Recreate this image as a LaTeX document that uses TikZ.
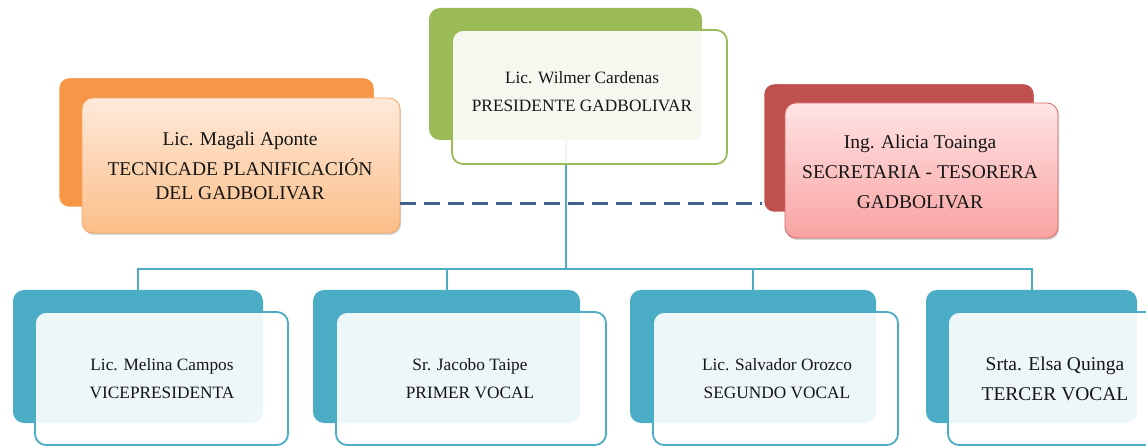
\documentclass[tikz,border=0pt]{standalone}
\usepackage{fontspec}
\setmainfont{Liberation Serif}
\usetikzlibrary{shadows}
\definecolor{orangeB}{HTML}{F79646}
\definecolor{orangeT}{HTML}{FEEADB}
\definecolor{orangeL}{HTML}{FBBE88}
\definecolor{orangeE}{HTML}{F5A565}
\definecolor{redB}{HTML}{C0504D}
\definecolor{redT}{HTML}{FFE4E4}
\definecolor{redL}{HTML}{F9A2A2}
\definecolor{redE}{HTML}{D06B69}
\definecolor{greenB}{HTML}{9BBB59}
\definecolor{blueB}{HTML}{4BACC6}
\definecolor{dashC}{HTML}{3E5F90}
\definecolor{txt}{HTML}{151515}
\begin{document}
\begin{tikzpicture}[x=1pt,y=-1pt,
  box/.style={rectangle, rounded corners=11pt, inner sep=0pt},
  backsolid/.style={box, fill=#1},
  backglow/.style={box, fill=#1, draw=white, line width=2.5pt,
    drop shadow={opacity=0.25, shadow xshift=0.8pt, shadow yshift=-1.2pt}},
  frontclear/.style={box, draw=#1, line width=1.8pt, fill=white, fill opacity=0.9, draw opacity=1},
  frontgrad/.style n args={3}{box, draw=#3, line width=0.8pt, top color=#1, bottom color=#2,
    drop shadow={opacity=0.35, shadow xshift=1pt, shadow yshift=-2pt}},
  tline/.style={draw=blueB, line width=2pt},
  dline/.style={draw=dashC, line width=3pt, dash pattern=on 16pt off 8pt},
  bigtxt/.style={align=center, text=txt, font=\fontsize{19.5}{30}\selectfont},
  smalltxt/.style={align=center, text=txt, font=\fontsize{17.3}{28}\selectfont}
]
\useasboundingbox (0,0) rectangle (1146,446);
\clip (0,0) rectangle (1146,446);

% dashed link
\coordinate (dy) at (0,204);
% back boxes
\node[backglow=orangeB, minimum width=317pt, minimum height=131pt] (ob) at (216.5,142.5) {};
\node[backglow=redB, minimum width=272pt, minimum height=130pt] (rb) at (899,148) {};
\node[backsolid=greenB, minimum width=273pt, minimum height=132pt] (gb) at (565.5,74) {};
\node[backsolid=blueB, minimum width=250pt, minimum height=133pt] (b1) at (138,356.5) {};
\node[backsolid=blueB, minimum width=267pt, minimum height=133pt] (b2) at (446.5,356.5) {};
\node[backsolid=blueB, minimum width=246pt, minimum height=133pt] (b3) at (753,356.5) {};
\node[backsolid=blueB, minimum width=211pt, minimum height=133pt] (b4) at (1031.5,356.5) {};

% tree connectors
\coordinate (j1) at (138,269);
\coordinate (j2) at (446.5,269);
\coordinate (j3) at (753,269);
\coordinate (j4) at (1031.5,269);
\coordinate (jm) at (565.5,269);

% front boxes
\node[frontgrad={orangeT}{orangeL}{orangeE}, minimum width=318pt, minimum height=135pt] (of) at (241,165.5) {};
\node[frontgrad={redT}{redL}{redE}, minimum width=273pt, minimum height=135pt] (rf) at (921.5,170.5) {};

\draw[dline] (of.east |- dy) -- (rb.west |- dy);
\draw[tline] (gb.south) -- (jm);
\draw[tline] (b1.north) -- (j1) -- (j4) -- (b4.north);
\draw[tline] (j2) -- (b2.north);
\draw[tline] (j3) -- (b3.north);

\node[frontclear=greenB, minimum width=275pt, minimum height=134pt] (gf) at (589.5,97) {};
\node[frontclear=blueB, minimum width=253pt, minimum height=133pt] (f1) at (161.5,378.5) {};
\node[frontclear=blueB, minimum width=270pt, minimum height=133pt] (f2) at (471,378.5) {};
\node[frontclear=blueB, minimum width=245pt, minimum height=133pt] (f3) at (775.5,378.5) {};
\node[frontclear=blueB, minimum width=222pt, minimum height=133pt] (f4) at (1059,378.5) {};

% texts
\node[smalltxt] (tg) at (582,92) {Lic. Wilmer Cardenas\\PRESIDENTE GADBOLIVAR};
\node[bigtxt, font=\fontsize{19.5}{24}\selectfont] (to) at (240,166) {Lic. Magali Aponte\\[6pt]TECNICADE PLANIFICACIÓN\\DEL GADBOLIVAR};
\node[bigtxt] (tr) at (920,172) {Ing. Alicia Toainga\\SECRETARIA - TESORERA\\GADBOLIVAR};
\node[smalltxt] (t1) at (162,379) {Lic. Melina Campos\\VICEPRESIDENTA};
\node[smalltxt] (t2) at (470,379) {Sr. Jacobo Taipe\\PRIMER VOCAL};
\node[smalltxt] (t3) at (777,379) {Lic. Salvador Orozco\\SEGUNDO VOCAL};
\node[bigtxt] (t4) at (1055,379) {Srta. Elsa Quinga\\TERCER VOCAL};
\end{tikzpicture}
\end{document}
